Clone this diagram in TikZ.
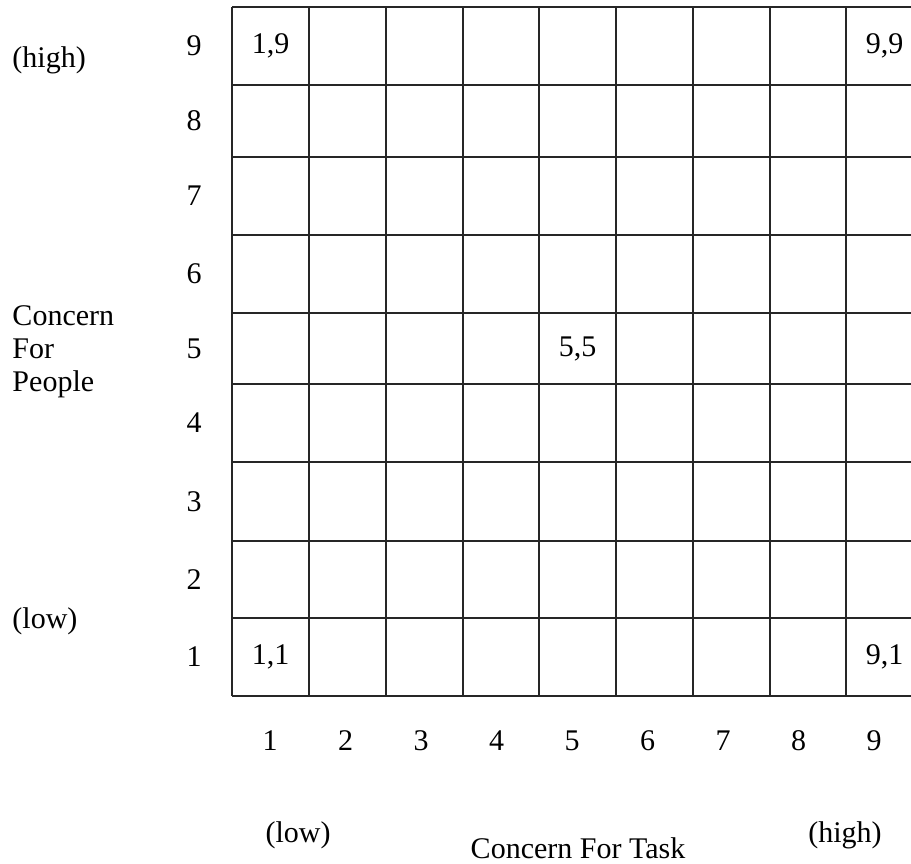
\documentclass[tikz,border=0pt]{standalone}
\usepackage{fontspec}
\setmainfont{Liberation Serif}
\begin{document}
\begin{tikzpicture}[x=0.4pt,y=-0.4pt,
  gridline/.style={line width=0.5pt,draw=black!85},
  lbl/.style={font=\fontsize{12}{14}\selectfont,inner sep=0pt,anchor=center},
  lbll/.style={font=\fontsize{12}{14}\selectfont,inner sep=0pt,anchor=base west},
  lblb/.style={font=\fontsize{12}{14}\selectfont,inner sep=0pt,anchor=base}]
\useasboundingbox (0,0) rectangle (911,863);
\clip (0,0) rectangle (911,863);
% grid
\def\xs{232,309,386,463,539,616,693,770,846,923}
\def\ys{7,85,157,235,313,384,462,541,618,696}
\foreach \x in \xs {\draw[gridline] (\x,7) -- (\x,696);}
\foreach \y in \ys {\draw[gridline] (232,\y) -- (923,\y);}
% row labels (row centres)
\foreach \n/\yc in {9/46,8/121,7/196,6/274,5/348.5,4/423,3/501.5,2/579.5,1/657}
  {\node[lbl] (r\n) at (194,\yc) {\n};}
% cell labels
\node[lbl] (c19) at (270.5,46) {1,9};
\node[lbl] (c99) at (884.5,46) {9,9};
\node[lbl] (c55) at (577.5,348.5) {5,5};
\node[lbl] (c11) at (270.5,657) {1,1};
\node[lbl] (c91) at (884.5,657) {9,1};
% column labels
\foreach \n in {1,...,9}
  {\node[lbl] (k\n) at ({270+(\n-1)*75.5},741) {\n};}
% axis words
\node[lbll] (hiy) at (12,67) {(high)};
\node[lbll] (lowy) at (12,628) {(low)};
\node[lbll] (cp1) at (12,325) {Concern};
\node[lbll] (cp2) at (12,358) {For};
\node[lbll] (cp3) at (12,391) {People};
\node[lblb] (lowx) at (298,842) {(low)};
\node[lblb] (hix) at (845,842) {(high)};
\node[lblb] (task) at (578,858) {Concern For Task};
\end{tikzpicture}
\end{document}
